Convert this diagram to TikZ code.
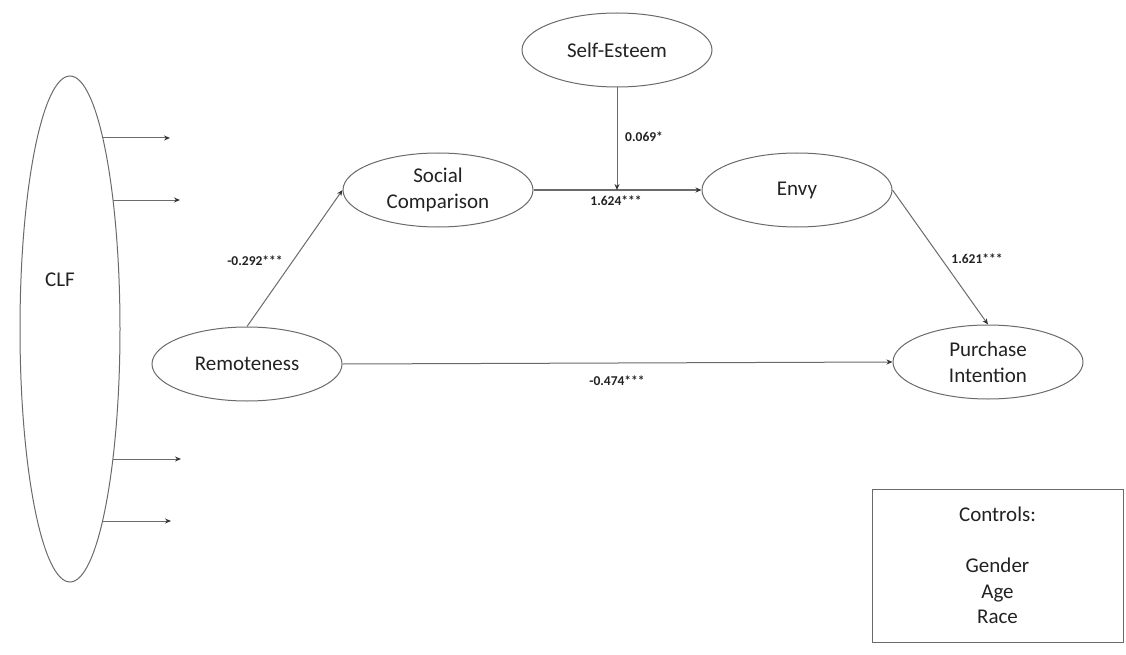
\documentclass[tikz,border=0pt]{standalone}
\usepackage{fontspec}
\setmainfont{Carlito}
\usetikzlibrary{shapes.geometric,arrows.meta}
\definecolor{linegray}{HTML}{6A6A6A}
\definecolor{textgray}{HTML}{222222}
\tikzset{
  construct/.style={ellipse, draw=linegray, line width=1pt, inner sep=0pt,
    minimum width=190pt, minimum height=74pt, align=center, text=textgray,
    font=\fontsize{21}{26}\selectfont},
  path/.style={draw=linegray, line width=1pt,
    -{Stealth[length=6pt,width=5pt,color=black!80]}},
  coef/.style={font=\bfseries\fontsize{13.5}{16}\selectfont, text=textgray, inner sep=0pt},
}
\begin{document}
\begin{tikzpicture}[x=1pt,y=-1pt]
\useasboundingbox (0,0) rectangle (1126,655);

% common latent factor
\node[ellipse, draw=linegray, line width=1pt, minimum width=100pt,
      minimum height=506pt, inner sep=0pt] (clf) at (70,329) {};
\node[text=textgray, font=\fontsize{21}{26}\selectfont] (clflabel) at (60,280) {CLF};
\coordinate (c1s) at (103,138); \coordinate (c1e) at (170,138);
\coordinate (c2s) at (113,200); \coordinate (c2e) at (180,200);
\coordinate (c3s) at (113,459); \coordinate (c3e) at (181,459);
\coordinate (c4s) at (103,521); \coordinate (c4e) at (171,521);
\foreach \i in {1,...,4} \draw[path] (c\i s) -- (c\i e);

% constructs
\node[construct] (se)  at (617,50)  {Self-Esteem};
\node[construct] (sc)  at (438,190) {Social\\Comparison};
\node[construct] (env) at (797,190) {Envy};
\node[construct] (rem) at (247,364) {Remoteness};
\node[construct] (pi)  at (988,362) {Purchase\\Intention};

% paths
\draw[path] (rem.north) -- (sc.west);
\draw[path] (sc.east) -- (env.west);
\coordinate (mod) at (se.south |- sc.east);
\draw[path] (se.south) -- (mod);
\draw[path] (env.east) -- (pi.north);
\draw[path] (rem.east) -- (pi.west);

% coefficients
\node[coef, anchor=west] (b1) at (625,137) {0.069*};
\node[coef] (b2) at (616,201) {1.624***};
\node[coef] (b3) at (977,259) {1.621***};
\node[coef] (b4) at (255,261) {-0.292***};
\node[coef] (b5) at (617,381) {-0.474***};

% control variables
\node[draw=linegray, line width=1pt, minimum width=251pt, minimum height=153pt,
      align=center, text=textgray, font=\fontsize{21}{25.5}\selectfont]
  (ctrl) at (997.5,565.5) {Controls:\\ \\Gender\\Age\\Race};
\end{tikzpicture}
\end{document}
